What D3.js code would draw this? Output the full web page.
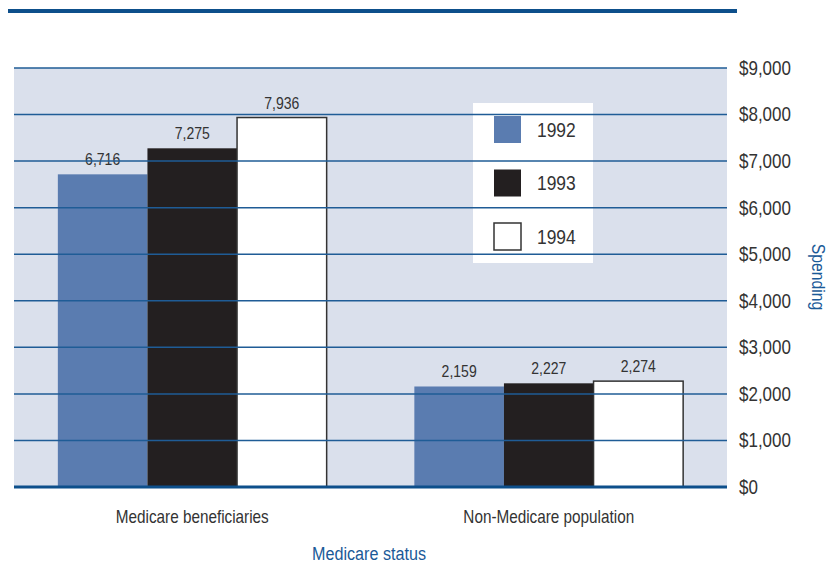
<!DOCTYPE html>
<html>
<head>
<meta charset="utf-8">
<script src="https://cdn.jsdelivr.net/npm/d3@7"></script>
<style>
  body { margin: 0; background: #fff; }
  text { font-family: "Liberation Sans", Arial, sans-serif; }
</style>
</head>
<body>
<div id="chart"></div>
<script>
// chart data
var categories = ["Medicare beneficiaries", "Non-Medicare population"];
var years = ["1992", "1993", "1994"];
var spending1992 = [6716, 2159];
var spending1993 = [7275, 2227];
var spending1994 = [7936, 2274];
var yTicks = [0, 1000, 2000, 3000, 4000, 5000, 6000, 7000, 8000, 9000];

var series = [spending1992, spending1993, spending1994];
var colors = ["#5a7cb0", "#231f20", "#ffffff"];

var width = 838;
var height = 563;

var plot = { left: 14, right: 727, top: 68, bottom: 487 };

// the original type is a condensed face, so squeeze text horizontally
var squeeze = 0.85;

function condense(sel) {
    sel.each(function() {
        var node = d3.select(this);
        var x = +node.attr("x") || 0;
        var tr = node.attr("transform") || "";
        node.attr("x", x / squeeze)
            .attr("transform", tr + "scale(" + squeeze + ",1)");
    });
}

var svg = d3.select("#chart")
    .append("svg")
    .attr("width", width)
    .attr("height", height);

var x_scale = d3.scaleBand()
    .domain(categories)
    .range([plot.left, plot.right])
    .paddingInner(0.246)
    .paddingOuter(0.123);

var x_inner = d3.scaleBand()
    .domain(years)
    .range([0, x_scale.bandwidth()]);

var y_scale = d3.scaleLinear()
    .domain([0, 9000])
    .range([plot.bottom, plot.top]);

// top rule
svg.append("rect")
    .attr("x", 8)
    .attr("y", 9)
    .attr("width", 729)
    .attr("height", 4)
    .attr("fill", "#0d4f8b");

// plot background
svg.append("rect")
    .attr("x", plot.left)
    .attr("y", plot.top)
    .attr("width", plot.right - plot.left)
    .attr("height", plot.bottom - plot.top)
    .attr("fill", "#dae0ec");

// legend box (gridlines are drawn over it)
var legend = svg.append("g")
    .attr("transform", "translate(473,103)");

legend.append("rect")
    .attr("width", 120)
    .attr("height", 160)
    .attr("fill", "#fff");

// bar value labels (gridlines also run over them)
var groups = svg.selectAll(".group")
    .data(categories)
    .enter()
    .append("g")
    .attr("class", "group")
    .attr("transform", function(d) {
        return "translate(" + x_scale(d) + ",0)";
    });

groups.selectAll(".value")
    .data(function(d, i) {
        return years.map(function(yr, j) {
            return { year: yr, value: series[j][i] };
        });
    })
    .enter()
    .append("text")
    .attr("class", "value")
    .attr("x", function(d) { return x_inner(d.year) + x_inner.bandwidth() / 2; })
    .attr("y", function(d) { return y_scale(d.value) - 9; })
    .attr("text-anchor", "middle")
    .attr("font-size", 16.5)
    .attr("fill", "#333")
    .text(function(d) { return d3.format(",")(d.value); })
    .call(condense);

// gridlines
svg.selectAll(".grid")
    .data(yTicks.filter(function(d) { return d > 0; }))
    .enter()
    .append("line")
    .attr("class", "grid")
    .attr("x1", plot.left)
    .attr("x2", plot.right)
    .attr("y1", function(d) { return y_scale(d); })
    .attr("y2", function(d) { return y_scale(d); })
    .attr("stroke", "#1f5c96")
    .attr("stroke-width", 1.5);

// bars
groups.selectAll(".bar")
    .data(function(d, i) {
        return years.map(function(yr, j) {
            return { year: yr, value: series[j][i], color: colors[j] };
        });
    })
    .enter()
    .append("rect")
    .attr("class", "bar")
    .attr("x", function(d) { return x_inner(d.year); })
    .attr("width", x_inner.bandwidth())
    .attr("y", function(d) { return y_scale(d.value); })
    .attr("height", function(d) { return y_scale(0) - y_scale(d.value); })
    .attr("fill", function(d) { return d.color; })
    .attr("stroke", function(d) { return d.color == "#ffffff" ? "#333" : "none"; })
    .attr("stroke-width", 1.5);

// baseline
svg.append("line")
    .attr("x1", plot.left)
    .attr("x2", plot.right)
    .attr("y1", y_scale(0))
    .attr("y2", y_scale(0))
    .attr("stroke", "#0d4f8b")
    .attr("stroke-width", 3);

// right axis labels
var y_axis = d3.axisRight(y_scale)
    .tickValues(yTicks)
    .tickSize(0)
    .tickPadding(12)
    .tickFormat(function(d) { return "$" + d3.format(",")(d); });

svg.append("g")
    .attr("class", "y axis")
    .attr("transform", "translate(" + plot.right + ",0)")
    .call(y_axis)
    .call(function(g) { g.select(".domain").remove(); })
    .attr("font-family", null)
    .selectAll("text")
    .attr("font-size", 20)
    .attr("fill", "#333")
    .call(condense);

// category labels
svg.selectAll(".cat")
    .data(categories)
    .enter()
    .append("text")
    .attr("class", "cat")
    .attr("x", function(d) { return x_scale(d) + x_scale.bandwidth() / 2; })
    .attr("y", 523)
    .attr("text-anchor", "middle")
    .attr("font-size", 18)
    .attr("fill", "#333")
    .text(function(d) { return d; })
    .call(condense);

// axis titles
svg.append("text")
    .attr("x", 369)
    .attr("y", 560)
    .attr("text-anchor", "middle")
    .attr("font-size", 19)
    .attr("fill", "#1b5a98")
    .text("Medicare status")
    .call(condense);

svg.append("text")
    .attr("transform", "translate(812,277)rotate(90)")
    .attr("text-anchor", "middle")
    .attr("font-size", 18.5)
    .attr("fill", "#1b5a98")
    .text("Spending")
    .call(condense);

// legend entries
var items = legend.selectAll(".item")
    .data(years)
    .enter()
    .append("g")
    .attr("class", "item")
    .attr("transform", function(d, i) { return "translate(21," + (13 + i * 53.5) + ")"; });

items.append("rect")
    .attr("width", 27)
    .attr("height", 27)
    .attr("fill", function(d, i) { return colors[i]; })
    .attr("stroke", function(d, i) { return colors[i] == "#ffffff" ? "#333" : "none"; })
    .attr("stroke-width", 1.5);

items.append("text")
    .attr("x", 43)
    .attr("y", 21)
    .attr("font-size", 20.5)
    .attr("fill", "#333")
    .text(function(d) { return d; })
    .call(condense);
</script>
</body>
</html>
